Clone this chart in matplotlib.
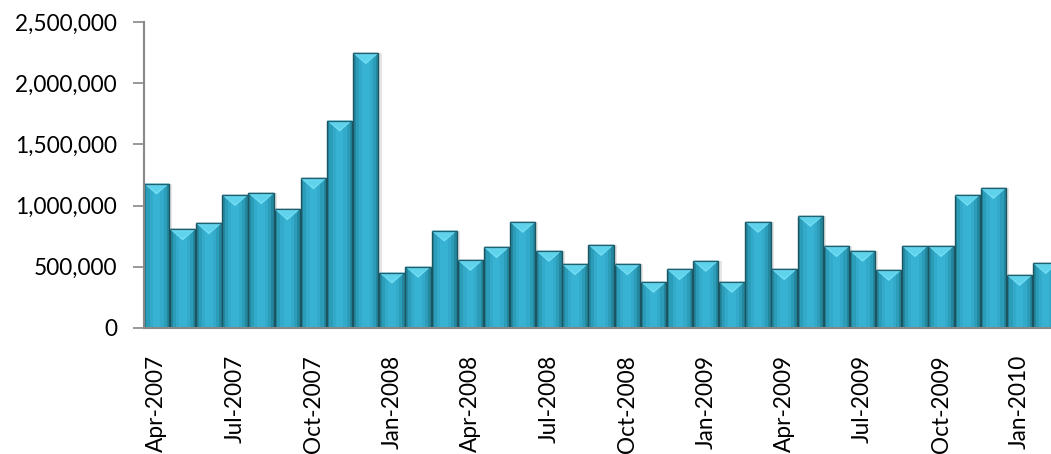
import matplotlib
matplotlib.use("Agg")
import matplotlib.pyplot as plt
from matplotlib.patches import Polygon
from matplotlib.ticker import FuncFormatter
import numpy as np

plt.rcParams['font.family'] = ['Lato', 'DejaVu Sans']

months = ["Apr-2007", "May-2007", "Jun-2007", "Jul-2007", "Aug-2007", "Sep-2007",
          "Oct-2007", "Nov-2007", "Dec-2007", "Jan-2008", "Feb-2008", "Mar-2008",
          "Apr-2008", "May-2008", "Jun-2008", "Jul-2008", "Aug-2008", "Sep-2008",
          "Oct-2008", "Nov-2008", "Dec-2008", "Jan-2009", "Feb-2009", "Mar-2009",
          "Apr-2009", "May-2009", "Jun-2009", "Jul-2009", "Aug-2009", "Sep-2009",
          "Oct-2009", "Nov-2009", "Dec-2009", "Jan-2010", "Feb-2010"]
values = [1180000, 805000, 855000, 1085000, 1100000, 970000,
          1222000, 1695000, 2245000, 452000, 500000, 795000,
          555000, 660000, 866000, 630000, 520000, 678000,
          520000, 376000, 480000, 548000, 376000, 866000,
          480000, 915000, 668000, 630000, 474000, 668000,
          668000, 1086000, 1143000, 433000, 530000]
yticks = [0, 500000, 1000000, 1500000, 2000000, 2500000]

W, H = 1051, 454
fig = plt.figure(figsize=(W / 100, H / 100), dpi=100)
ax_left, ax_bottom, ax_top = 143.5, 328.0, 22.0
n = len(values)
step = 26.15
ax = fig.add_axes([ax_left / W, (H - ax_bottom) / H, n * step / W, (ax_bottom - ax_top) / H])

x = np.arange(n)
bw = 0.97
# shadow
ax.bar(x + 0.12, values, width=bw, color='#000000', alpha=0.10, zorder=1, linewidth=0)
# base bar (dark edges)
ax.bar(x, values, width=bw, color='#24879E', edgecolor='#1B5561', linewidth=1.0, zorder=2)
# lighter inner layers for cylinder-ish gradient
ax.bar(x, values, width=bw * 0.80, color='#2C9DB8', linewidth=0, zorder=3)
ax.bar(x, values, width=bw * 0.55, color='#33AACA', linewidth=0, zorder=4)
ax.bar(x, values, width=bw * 0.30, color='#38B2D2', linewidth=0, zorder=5)

ax.set_ylim(0, 2500000)
ax.set_xlim(-0.5, n - 0.5)

# bevel top triangles
ymax = 2500000
depth = 11.0 / (ax_bottom - ax_top) * ymax
band = 2.0 / (ax_bottom - ax_top) * ymax
for xi, v in zip(x, values):
    l, r = xi - bw / 2, xi + bw / 2
    tri = Polygon([[l, v], [r, v], [xi, v - depth]], closed=True,
                  facecolor='#72DDF4', edgecolor='none', zorder=6)
    ax.add_patch(tri)
    tri2 = Polygon([[l + 0.12, v - band], [r - 0.12, v - band], [xi, v - depth * 0.8]], closed=True,
                   facecolor='#5FD2EC', edgecolor='none', zorder=7)
    ax.add_patch(tri2)
    ax.plot([l, r], [v, v], color='#1B6272', lw=1.0, zorder=8, solid_capstyle='butt')

for s in ['top', 'right']:
    ax.spines[s].set_visible(False)
for s in ['left', 'bottom']:
    ax.spines[s].set_color('#888888')
    ax.spines[s].set_linewidth(1.5)
ax.spines['left'].set_zorder(10)
ax.spines['bottom'].set_zorder(10)

ax.set_yticks(yticks)
ax.yaxis.set_major_formatter(FuncFormatter(lambda v, p: f"{int(v):,}"))
ax.tick_params(axis='y', length=8, width=1.2, color='#888888', pad=11, labelsize=16.3, labelcolor='#000000')

ax.set_xticks(x[::3])
ax.set_xticklabels(months[::3], rotation=90, fontsize=16.3, color='#000000')
ax.tick_params(axis='x', length=0, pad=19.5)

fig.savefig("out.png", dpi=100)
